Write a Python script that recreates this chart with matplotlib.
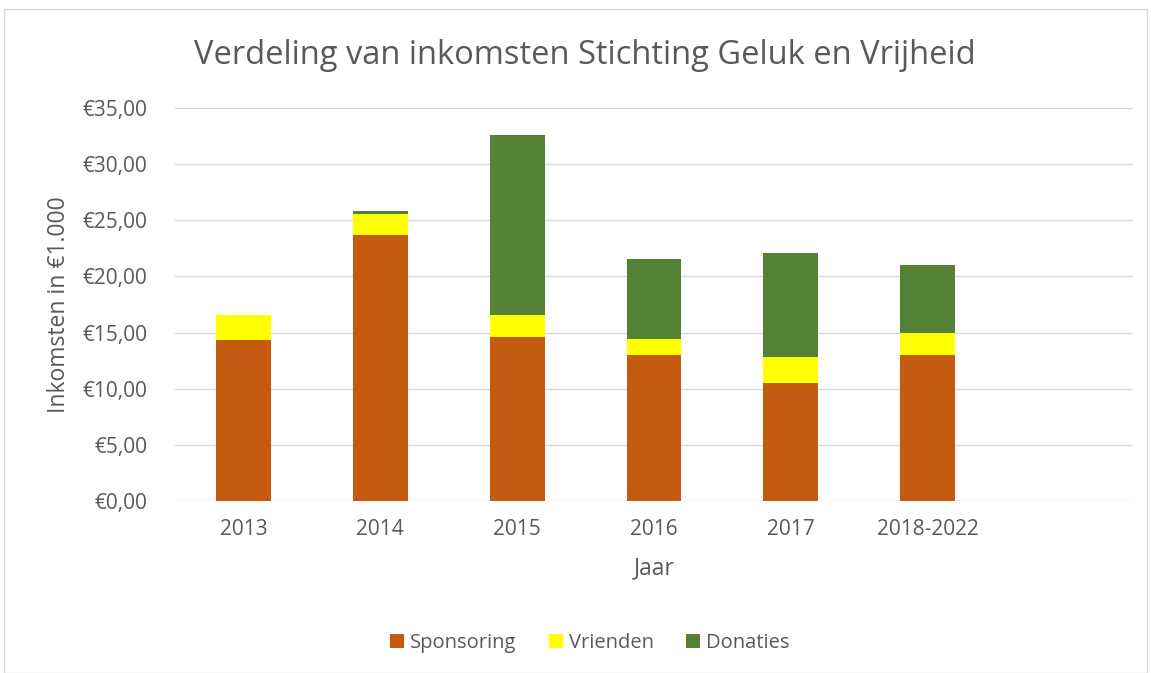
import matplotlib
matplotlib.use('Agg')
import matplotlib.pyplot as plt
from matplotlib.patches import Rectangle
from matplotlib.ticker import FuncFormatter

# data (in €1.000)
jaren = ['2013', '2014', '2015', '2016', '2017', '2018-2022']
sponsoring = [14.3, 23.7, 14.6, 13.0, 10.5, 13.0]
vrienden = [2.3, 1.9, 2.0, 1.45, 2.3, 2.0]
donaties = [0.0, 0.2, 16.0, 7.1, 9.25, 6.0]

plt.rcParams['font.family'] = ['Open Sans', 'DejaVu Sans']
TXT = '#595959'

fig = plt.figure(figsize=(11.51, 6.73), dpi=100)
fig.patches.append(Rectangle((4 / 1151, 0), 1143 / 1151, 1 - 9 / 673, transform=fig.transFigure,
                             fill=False, edgecolor='#d9d9d9', linewidth=1))

ax = fig.add_axes([175 / 1151, 1 - 501 / 673, 958 / 1151, 393 / 673])

x = list(range(len(jaren)))
bottom2 = [s + v for s, v in zip(sponsoring, vrienden)]
ax.bar(x, sponsoring, width=0.4, color='#c55a11', label='Sponsoring', zorder=3)
ax.bar(x, vrienden, width=0.4, bottom=sponsoring, color='#ffff00', label='Vrienden', zorder=3)
ax.bar(x, donaties, width=0.4, bottom=bottom2, color='#548235', label='Donaties', zorder=3)

# 7 slots on the axis, the last one is empty
ax.set_xlim(-0.5, 6.5)
ax.set_ylim(0, 35)
ax.set_yticks(range(0, 36, 5))
ax.yaxis.set_major_formatter(FuncFormatter(lambda v, p: '€{:.2f}'.format(v).replace('.', ',')))
ax.set_xticks(x)
ax.set_xticklabels(jaren)
ax.grid(axis='y', color='#d9d9d9', linewidth=1, zorder=0)
for s in ax.spines.values():
    s.set_visible(False)
ax.tick_params(length=0, colors=TXT, labelsize=15)
ax.tick_params(axis='x', pad=13)
ax.tick_params(axis='y', pad=20)

ax.set_xlabel('Jaar', color=TXT, fontsize=16.5, labelpad=12)
ax.set_ylabel('Inkomsten in €1.000', color=TXT, fontsize=16.5, labelpad=8)

fig.text(585 / 1151, 1 - 55 / 673, 'Verdeling van inkomsten Stichting Geluk en Vrijheid',
         ha='center', va='center', color=TXT, fontsize=23.5)

fig.legend(loc='center', bbox_to_anchor=(590 / 1151, 1 - 643 / 673), ncol=3, frameon=False,
           fontsize=14.5, labelcolor=TXT, handlelength=0.7, handleheight=0.7, columnspacing=1.6,
           handletextpad=0.3)

fig.savefig('out.png', dpi=100)
